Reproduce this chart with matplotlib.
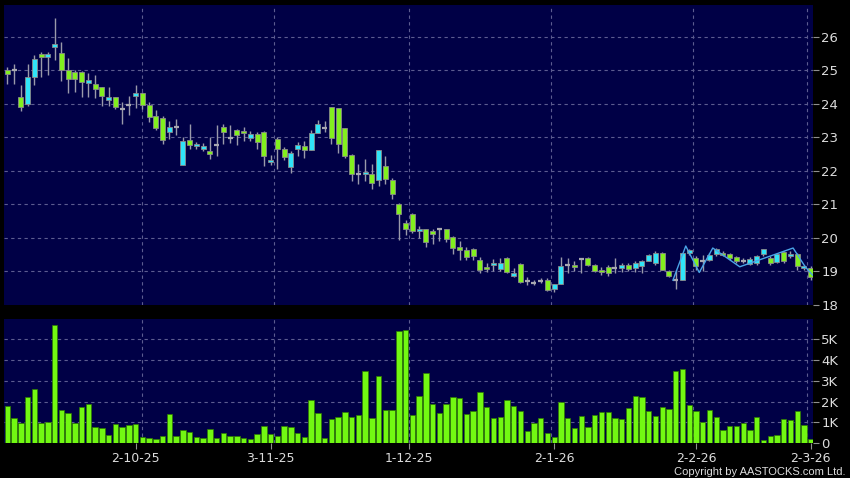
import matplotlib
matplotlib.use('Agg')
import matplotlib.pyplot as plt

# daily OHLC (120 sessions)
opens = [25.0, 25.0, 24.2, 24.0, 24.8, 25.5, 25.4, 25.7, 25.52, 25.0,
         24.95, 24.95, 24.63, 24.6, 24.5, 24.13, 24.2, 23.85, 23.98, 24.25,
         24.33, 23.97, 23.63, 23.58, 23.16, 23.31, 22.18, 22.91, 22.74, 22.66,
         22.6, 22.76, 23.31, 22.99, 23.21, 23.19, 22.97, 23.09, 23.16, 22.26,
         22.96, 22.64, 22.13, 22.65, 22.74, 22.61, 23.13, 23.28, 23.9, 23.87,
         23.28, 22.48, 21.92, 21.9, 21.92, 21.72, 22.15, 21.74, 21.0, 20.45,
         20.7, 20.21, 20.26, 20.21, 20.28, 20.26, 20.03, 19.73, 19.65, 19.66,
         19.35, 19.14, 19.2, 19.07, 19.4, 18.87, 19.23, 18.71, 18.67, 18.73,
         18.76, 18.47, 18.63, 19.19, 19.19, 19.36, 19.41, 19.19, 19.04, 19.14,
         19.09, 19.11, 19.19, 19.09, 19.17, 19.31, 19.26, 19.55, 19.02, 18.76,
         18.74, 19.55, 19.4, 19.3, 19.35, 19.51, 19.55, 19.51, 19.43, 19.31,
         19.23, 19.26, 19.51, 19.4, 19.29, 19.58, 19.45, 19.51, 19.09, 19.11]
highs = [25.1, 25.2, 24.55, 25.2, 25.45, 25.56, 25.56, 26.56, 25.86, 25.37,
         25.0, 24.98, 24.93, 24.87, 24.5, 24.5, 24.22, 24.06, 24.25, 24.57,
         24.35, 24.06, 23.83, 23.65, 23.48, 23.54, 23.01, 23.4, 22.87, 22.83,
         23.01, 23.36, 23.41, 23.36, 23.26, 23.3, 23.2, 23.15, 23.2, 22.47,
         23.01, 22.72, 22.6, 22.86, 22.9, 23.23, 23.52, 23.5, 23.9, 23.87,
         23.28, 22.5, 22.22, 22.36, 22.22, 22.61, 22.46, 21.8, 21.05, 20.53,
         20.75, 20.35, 20.28, 20.26, 20.3, 20.28, 20.05, 19.9, 19.73, 19.7,
         19.43, 19.25, 19.37, 19.39, 19.42, 19.1, 19.25, 18.85, 18.75, 18.8,
         18.8, 18.62, 19.43, 19.39, 19.3, 19.4, 19.43, 19.22, 19.12, 19.18,
         19.39, 19.25, 19.25, 19.3, 19.35, 19.52, 19.6, 19.58, 19.05, 19.05,
         19.55, 19.68, 19.45, 19.5, 19.55, 19.7, 19.6, 19.55, 19.45, 19.4,
         19.42, 19.5, 19.68, 19.45, 19.55, 19.62, 19.6, 19.55, 19.2, 19.15]
lows = [24.6, 24.6, 23.8, 23.95, 24.55, 24.8, 24.85, 25.32, 24.67, 24.33,
        24.35, 24.2, 24.2, 24.18, 23.95, 23.95, 23.85, 23.4, 23.67, 23.88,
        23.85, 23.46, 23.21, 22.81, 22.96, 23.06, 22.18, 22.66, 22.64, 22.58,
        22.36, 22.46, 22.81, 22.82, 22.76, 22.9, 22.9, 22.66, 22.16, 22.17,
        22.07, 22.33, 21.95, 22.46, 22.4, 22.61, 23.13, 23.17, 22.79, 22.54,
        22.38, 21.7, 21.62, 21.7, 21.47, 21.54, 21.6, 21.17, 19.93, 20.08,
        20.15, 20.0, 19.73, 19.83, 19.9, 19.88, 19.53, 19.33, 19.33, 19.35,
        18.96, 18.97, 19.0, 19.0, 18.95, 18.85, 18.65, 18.61, 18.6, 18.65,
        18.41, 18.4, 18.63, 18.95, 19.0, 18.94, 19.15, 18.98, 18.9, 18.88,
        18.94, 18.98, 19.0, 18.98, 18.94, 19.3, 19.2, 19.05, 18.85, 18.49,
        18.74, 19.5, 19.05, 19.0, 19.3, 19.45, 19.45, 19.35, 19.25, 19.25,
        19.2, 19.2, 19.45, 19.2, 19.25, 19.25, 19.4, 19.05, 19.05, 18.75]
closes = [24.9, 25.0, 23.9, 24.8, 25.35, 25.4, 25.5, 25.8, 25.0, 24.75,
          24.75, 24.65, 24.72, 24.45, 24.25, 24.2, 23.9, 23.85, 23.98, 24.32,
          23.97, 23.6, 23.28, 22.91, 23.31, 23.31, 22.89, 22.78, 22.81, 22.74,
          22.5, 22.76, 23.16, 22.99, 23.08, 23.13, 23.09, 22.86, 22.44, 22.33,
          22.64, 22.43, 22.53, 22.78, 22.61, 23.13, 23.39, 23.28, 22.98, 22.79,
          22.46, 21.92, 21.92, 21.97, 21.64, 22.61, 21.77, 21.32, 20.72, 20.28,
          20.22, 20.28, 19.88, 20.11, 20.28, 19.96, 19.7, 19.63, 19.43, 19.46,
          19.05, 19.08, 19.26, 19.24, 18.97, 18.96, 18.69, 18.71, 18.67, 18.73,
          18.46, 18.62, 19.17, 19.19, 19.12, 19.36, 19.2, 19.02, 18.99, 18.96,
          19.09, 19.19, 19.08, 19.26, 19.31, 19.49, 19.55, 19.05, 18.87, 18.76,
          19.55, 19.65, 19.17, 19.3, 19.49, 19.66, 19.49, 19.41, 19.31, 19.31,
          19.38, 19.45, 19.66, 19.26, 19.51, 19.31, 19.51, 19.15, 19.15, 18.84]
# volume in thousands
volumes_k = [1.8, 1.23, 0.96, 2.2, 2.59, 0.97, 1.04, 5.67, 1.6, 1.47,
             0.99, 1.74, 1.87, 0.8, 0.73, 0.4, 0.94, 0.77, 0.89, 0.91,
             0.32, 0.25, 0.21, 0.37, 1.4, 0.37, 0.62, 0.54, 0.32, 0.25,
             0.7, 0.25, 0.51, 0.34, 0.34, 0.25, 0.21, 0.45, 0.82, 0.45,
             0.37, 0.82, 0.77, 0.51, 0.3, 2.08, 1.45, 0.25, 1.15, 1.28,
             1.52, 1.26, 1.34, 3.45, 1.23, 3.23, 1.6, 1.6, 5.39, 5.45,
             1.34, 2.27, 3.36, 1.9, 1.45, 1.9, 2.2, 2.15, 1.4, 1.55,
             2.45, 1.75, 1.2, 1.25, 2.1, 1.8, 1.55, 0.6, 0.95, 1.2,
             0.5, 0.3, 2.0, 1.2, 0.75, 1.3, 0.8, 1.35, 1.5, 1.5,
             1.2, 1.15, 1.7, 2.25, 2.2, 1.55, 1.3, 1.75, 1.65, 3.45,
             3.55, 1.85, 1.55, 1.0, 1.6, 1.25, 0.65, 0.85, 0.85, 0.95,
             0.65, 1.25, 0.15, 0.35, 0.4, 1.15, 1.1, 1.55, 0.9, 0.2]

# thin blue overlay line on the last weeks
line_x = [98.6, 100.5, 102.5, 104.5, 108.5, 116.4, 118.2, 119.3]
line_y = [18.74, 19.76, 18.97, 19.7, 19.14, 19.7, 19.14, 18.89]

date_ticks = [19, 39, 59.5, 81, 102, 119]
date_grid = [20, 39.5, 59.5, 80.5, 101.5, 118.5]
date_labels = ['2-10-25', '3-11-25', '1-12-25', '2-1-26', '2-2-26', '2-3-26']
price_ticks = [18, 19, 20, 21, 22, 23, 24, 25, 26]
vol_ticks = [0, 1, 2, 3, 4, 5]
vol_labels = ['0', '1K', '2K', '3K', '4K', '5K']

BG = '#000046'
GRID = '#5c5c90'
TXT = '#dcdcdc'
UP = '#30e4f8'
DOWN = '#82f01e'

fig = plt.figure(figsize=(8.5, 4.78), dpi=100, facecolor='black')
ax1 = fig.add_axes([4/850, 1-305/478, 809/850, 300/478], facecolor=BG)
ax2 = fig.add_axes([4/850, 1-443.3/478, 809/850, 124.3/478], facecolor=BG)

n = len(opens)
xs = list(range(n))
w = 0.74

# wicks
ax1.vlines(xs, lows, highs, color='#9a9aaa', lw=1, zorder=2)
for i in xs:
    o, c = opens[i], closes[i]
    if abs(c - o) < 1e-9:
        ax1.hlines(o, i - w/2, i + w/2, color='#a8a8b0', lw=1.6, zorder=3)
    else:
        col = UP if c > o else DOWN
        ax1.bar(i, abs(c - o), w, bottom=min(o, c), color=col,
                edgecolor='#8a8a8a', linewidth=0.6, zorder=3)

ax1.plot(line_x, line_y, color='#4aa4e6', lw=1, zorder=4)

ax2.bar(xs, volumes_k, 0.78, color='#72f812', edgecolor='#2e7a00',
        linewidth=0.5, zorder=3)

ax1.set_ylim(18.0, 26.95)
ax2.set_ylim(0, 5.96)
for ax in (ax1, ax2):
    ax.set_xlim(-0.5, 119.35)
    for s in ax.spines.values():
        s.set_visible(False)
    ax.yaxis.tick_right()
    ax.tick_params(axis='y', colors='#909090', labelcolor=TXT, length=4,
                   width=0.8, pad=2, labelsize=9.5)
    for g in date_grid:
        ax.axvline(g, color=GRID, lw=0.8, ls=(0, (3, 3)), zorder=1)

ax1.set_yticks(price_ticks)
ax1.set_yticklabels([str(t) for t in price_ticks])
ax1.set_xticks([])
for t in price_ticks[1:]:
    ax1.axhline(t, color=GRID, lw=0.8, ls=(0, (3, 3)), zorder=1)

ax2.set_yticks(vol_ticks)
ax2.set_yticklabels(vol_labels)
for t in vol_ticks[1:]:
    ax2.axhline(t, color=GRID, lw=0.8, ls=(0, (3, 3)), zorder=1)
ax2.set_xticks(date_ticks)
ax2.set_xticklabels(date_labels)
ax2.tick_params(axis='x', colors='#909090', labelcolor=TXT, length=4,
                width=0.8, pad=2, labelsize=9)

fig.text(0.995, 0.002, 'Copyright by AASTOCKS.com Ltd.', color=TXT,
         fontsize=8, family='Liberation Sans', ha='right', va='bottom')

fig.savefig('out.png', dpi=100, facecolor='black')
